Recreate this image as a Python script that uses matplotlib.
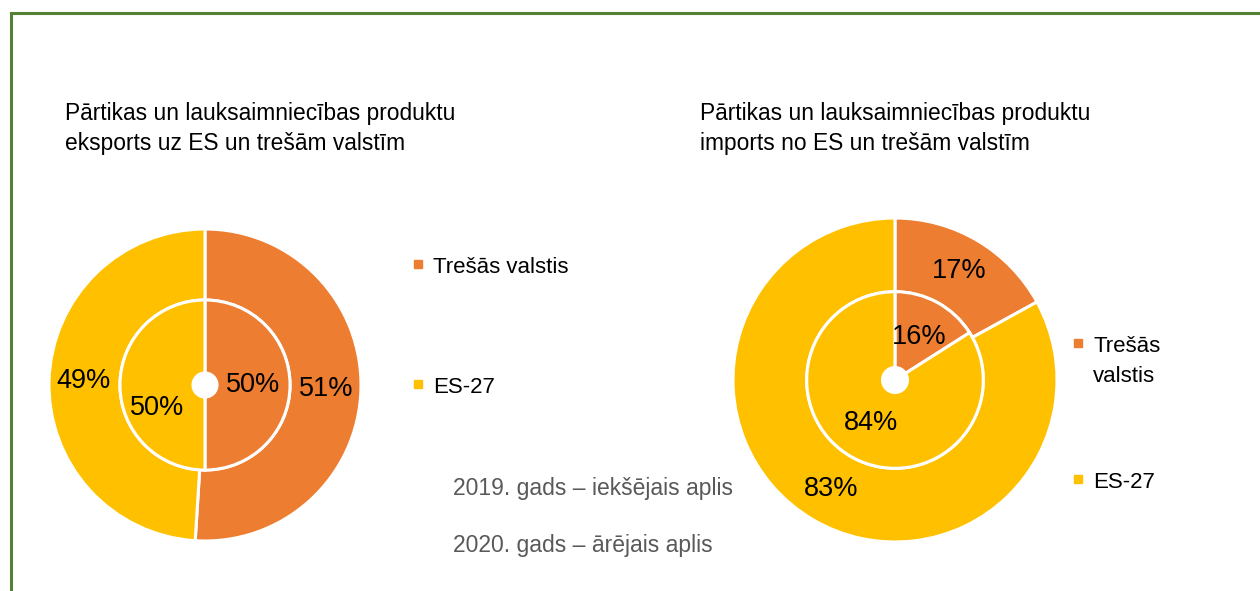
import matplotlib.pyplot as plt
from matplotlib.patches import Rectangle

# data
categories = ["Trešās valstis", "ES-27"]
colors = ["#ED7D31", "#FFC000"]
export_2019 = [50, 50]   # inner ring
export_2020 = [51, 49]   # outer ring
import_2019 = [16, 84]
import_2020 = [17, 83]

titles = [
    ["Pārtikas un lauksaimniecības produktu", "eksports uz ES un trešām valstīm"],
    ["Pārtikas un lauksaimniecības produktu", "imports no ES un trešām valstīm"],
]
notes = ["2019. gads – iekšējais aplis", "2020. gads – ārējais aplis"]

W, H = 1260, 591
plt.rcParams['font.family'] = ['Liberation Sans', 'DejaVu Sans']

fig = plt.figure(figsize=(W / 100, H / 100), dpi=100)


def px(x, y):
    return x / W, 1 - y / H


def donut(cx, cy, r, inner, outer):
    ax = fig.add_axes([(cx - r) / W, 1 - (cy + r) / H, 2 * r / W, 2 * r / H])
    fmt = lambda p: f"{p:.0f}%"
    tk = dict(fontsize=19.5, color='black')
    wp = dict(edgecolor='white', linewidth=2.2)
    ax.pie(outer, radius=1, colors=colors, startangle=90, counterclock=False,
           autopct=fmt, pctdistance=0.78, textprops=tk,
           wedgeprops=dict(width=0.455, **wp))
    _, _, t_in = ax.pie(inner, radius=0.545, colors=colors, startangle=90,
                        counterclock=False, autopct=fmt, pctdistance=0.56,
                        textprops=tk, wedgeprops=dict(width=0.468, **wp))
    ax.set_xlim(-1, 1)
    ax.set_ylim(-1, 1)
    ax.set_aspect('equal')
    ax.axis('off')
    return ax, t_in


axL, tL = donut(205, 385, 156, export_2019, export_2020)
x, y = tL[1].get_position()
tL[1].set_position((x, y - 0.15))
axR, tR = donut(895, 380, 162, import_2019, import_2020)

# titles
for x0, lines in zip([65, 700], titles):
    for k, line in enumerate(lines):
        fig.text(*px(x0, 120 + 30 * k), line, fontsize=16.4, va='baseline', ha='left')

# legends
leg_left = [(264, ["Trešās valstis"]), (384, ["ES-27"])]
leg_right = [(343, ["Trešās", "valstis"]), (479, ["ES-27"])]
for xm, entries in [(414, leg_left), (1074, leg_right)]:
    for (ym, lines), c in zip(entries, colors):
        fig.add_artist(Rectangle(px(xm, ym + 4), 8 / W, 8 / H, color=c,
                                 transform=fig.transFigure))
        for k, line in enumerate(lines):
            fig.text(*px(xm + 19, ym + 9 + 30 * k), line, fontsize=16,
                     va='baseline', ha='left')

# notes
for k, note in enumerate(notes):
    fig.text(*px(453, 495 + 57 * k), note, fontsize=16.5, color='#595959',
             va='baseline', ha='left')

# frame
fig.add_artist(Rectangle(px(11, 600), 1300 / W, 587 / H, fill=False,
                         edgecolor='#548235', linewidth=2.2,
                         transform=fig.transFigure))

fig.savefig("out.png", dpi=100)
